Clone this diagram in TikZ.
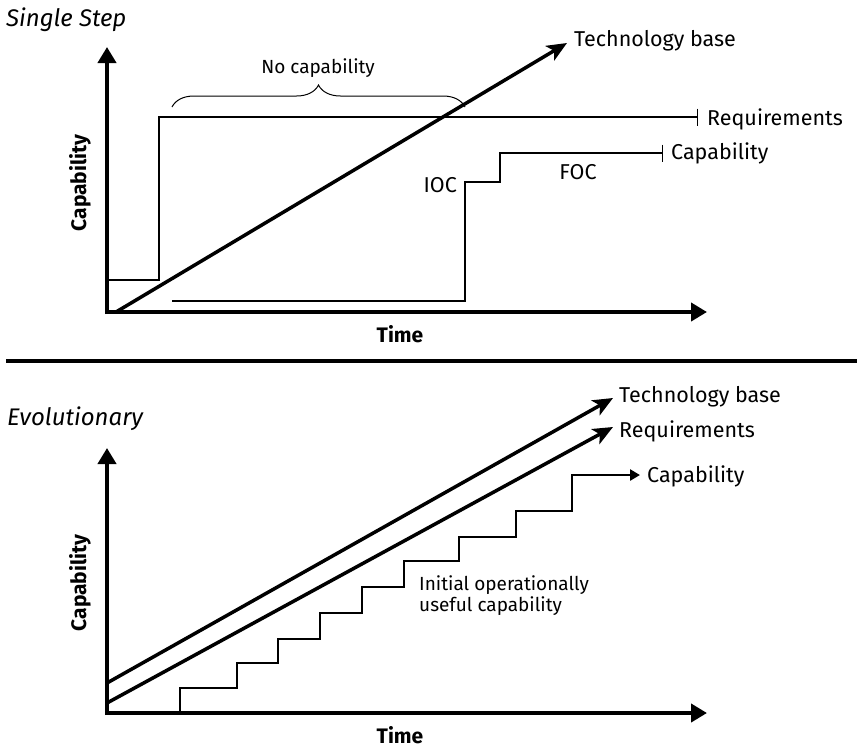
\documentclass[tikz,border=0pt]{standalone}
\usepackage{fontspec}
\setmainfont{Fira Sans}
\usetikzlibrary{arrows.meta,decorations.pathreplacing}
\begin{document}
\begin{tikzpicture}[x=1pt,y=-1pt,
  axis/.style={line width=4pt,-{Triangle[length=16pt,width=18pt]}},
  techline/.style={line width=3.5pt,-{Stealth[length=20pt,width=17pt,inset=5pt]}},
  stepline/.style={line width=2.5pt},
  barend/.style={-{Bar[width=17pt,line width=1.3pt]}},
  lbl/.style={inner sep=0pt,font=\fontsize{21.5}{25}\selectfont},
  small/.style={inner sep=0pt,font=\fontsize{19}{22}\selectfont},
  axlbl/.style={inner sep=0pt,font=\fontsize{21}{25}\selectfont\bfseries},
  title/.style={inner sep=0pt,font=\fontsize{24}{28}\selectfont\itshape}]
\path[use as bounding box] (0,0) rectangle (857,748);

% ---------- top panel ----------
\node[title,anchor=base west] (t1) at (6,26) {Single Step};
\coordinate (ya1) at (107,314);
\coordinate (yt1) at (107,47);
\coordinate (xa1) at (105,312);
\coordinate (xt1) at (707,312);
\draw[axis] (ya1) -- (yt1);
\draw[axis] (xa1) -- (xt1);
\node[axlbl,rotate=90] (cap1) at (80,183) {Capability};
\node[axlbl,anchor=base] (time1) at (400,342) {Time};

% requirements
\coordinate (r0) at (107,280);
\coordinate (r1) at (159,280);
\coordinate (r2) at (159,117);
\coordinate (r3) at (698,117);
\draw[stepline,barend] (r0) -- (r1) -- (r2) -- (r3);
\node[lbl,anchor=base west] (req1) at (707,125) {Requirements};

% technology base
\coordinate (tb0) at (116,312);
\coordinate (tb1) at (567,43);
\draw[techline] (tb0) -- (tb1);
\node[lbl,anchor=base west] (tech1) at (574,46) {Technology base};

% brace
\coordinate (b0) at (172,107);
\coordinate (b1) at (465,107);
\draw[line width=1pt,decorate,decoration={brace,amplitude=22pt}] (b0) -- (b1);
\node[small,anchor=base] (nocap) at (318,73) {No capability};

% capability
\coordinate (c0) at (172,301);
\coordinate (c1) at (465,301);
\coordinate (c2) at (465,182);
\coordinate (c3) at (500,182);
\coordinate (c4) at (500,153);
\coordinate (c5) at (663,153);
\draw[stepline,barend] (c0) -- (c1) -- (c2) -- (c3) -- (c4) -- (c5);
\node[lbl,anchor=base west] (capl1) at (671,159) {Capability};
\node[lbl,anchor=base east] (ioc) at (457,192) {IOC};
\node[lbl,anchor=base] (foc) at (578,179) {FOC};

% separator
\coordinate (s0) at (6,361);
\coordinate (s1) at (857,361);
\draw[line width=4pt] (s0) -- (s1);

% ---------- bottom panel ----------
\node[title,anchor=base west] (t2) at (7,425) {Evolutionary};
\coordinate (ya2) at (107,715);
\coordinate (yt2) at (107,448);
\coordinate (xa2) at (105,713);
\coordinate (xt2) at (707,713);
\draw[axis] (ya2) -- (yt2);
\draw[axis] (xa2) -- (xt2);
\node[axlbl,rotate=90] (cap2) at (80,583) {Capability};
\node[axlbl,anchor=base] (time2) at (400,743) {Time};

\coordinate (tb2a) at (107,683);
\coordinate (tb2b) at (613,398);
\draw[techline] (tb2a) -- (tb2b);
\node[lbl,anchor=base west] (tech2) at (619,402) {Technology base};

\coordinate (rq2a) at (107,703);
\coordinate (rq2b) at (613,427);
\draw[techline] (rq2a) -- (rq2b);
\node[lbl,anchor=base west] (req2) at (619,437) {Requirements};

\draw[stepline,-{Triangle[length=10pt,width=11pt]}] (180,713) -- (180,688) -- (237,688) -- (237,663) -- (278,663) -- (278,639)
  -- (320,639) -- (320,613) -- (362,613) -- (362,587) -- (404,587) -- (404,561)
  -- (459,561) -- (459,537) -- (516,537) -- (516,511) -- (572,511) -- (572,475) -- (640,475);
\node[lbl,anchor=base west] (capl2) at (647,482) {Capability};

\node[small,anchor=base west] (init1) at (419,590) {Initial operationally};
\node[small,anchor=base west] (init2) at (419,611) {useful capability};
\end{tikzpicture}
\end{document}
